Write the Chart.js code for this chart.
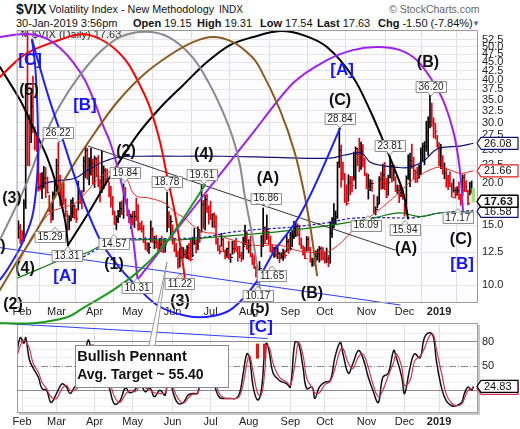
<!DOCTYPE html>
<html>
<head>
<meta charset="utf-8">
<script src="https://cdn.jsdelivr.net/npm/chart.js@4.4.1/dist/chart.umd.min.js"></script>
<style>
  html, body { margin: 0; padding: 0; background: #fff; }
  #wrap { position: relative; width: 520px; height: 429px; overflow: hidden; font-family: "Liberation Sans", Arial, sans-serif; color: #111; }
  #wrap canvas { position: absolute; left: 0; top: 0; }
  .h { position: absolute; white-space: nowrap; }
</style>
</head>
<body>
<div id="wrap">
  <div class="h" style="left:16px;top:1px;font-size:14px;font-weight:bold;">$VIX</div>
  <div class="h" style="left:49px;top:3px;font-size:10.8px;">Volatility Index - New Methodology</div>
  <div class="h" style="left:219px;top:4px;font-size:10px;">INDX</div>
  <div class="h" style="left:389px;top:3px;font-size:10.5px;color:#666;">&copy; StockCharts.com</div>
  <div class="h" style="left:16px;top:17px;font-size:11px;">30-Jan-2019 3:56pm</div>
  <div class="h" style="left:133px;top:17px;font-size:11px;"><b>Open</b> 19.15</div>
  <div class="h" style="left:197px;top:17px;font-size:11px;"><b>High</b> 19.31</div>
  <div class="h" style="left:260px;top:17px;font-size:11px;"><b>Low</b> 17.54</div>
  <div class="h" style="left:317px;top:17px;font-size:11px;"><b>Last</b> 17.63</div>
  <div class="h" style="left:378px;top:17px;font-size:11px;"><b>Chg</b> -1.50 (-7.84%)</div>
  <div class="h" style="left:472px;top:19px;font-size:8px;color:#5b6c8f;">&#9660;</div>
  <canvas id="osc" width="520" height="429"></canvas>
  <canvas id="price" width="520" height="429"></canvas>
</div>
<script>
// ---- data: $VIX daily, 30-Jan-2018 .. 30-Jan-2019 (day 0 = 1-Feb-2018) ----
const prevClose = 13.84;
const highs = [
  15.46, 15.09,
  14.47, 17.84, 38.80, 56.00, 31.64, 36.17, 41.06, 29.15, 27.38, 26.33, 21.29, 21.40, 22.32, 22.15, 20.77, 18.36, 17.26, 18.81, 20.23,
  23.46, 26.22, 21.00, 19.73, 19.93, 17.97, 16.27, 16.00, 17.82, 18.06, 17.18, 16.76, 20.22, 18.90, 18.98, 23.81, 25.50, 25.24, 23.64, 25.21, 23.44,
  23.92, 23.65, 24.01, 20.49, 24.75, 22.39, 22.03, 21.92, 20.10, 19.50, 18.23, 16.51, 15.99, 16.58, 17.53, 17.68, 19.84, 19.36, 17.95, 16.59, 16.18,
  16.46, 16.48, 18.03, 17.25, 15.25, 15.44, 14.97, 13.80, 13.34, 13.33, 15.45, 14.76, 13.93, 14.01, 13.54, 13.71, 13.93, 13.68, 13.53, 18.78, 16.44, 16.01,
  15.05, 13.72, 13.29, 12.60, 12.86, 12.97, 12.91, 12.71, 13.08, 13.26, 13.66, 13.81, 14.68, 13.59, 14.84, 14.50, 19.61, 17.73, 18.33, 18.48, 17.12,
  17.66, 16.20, 16.31, 16.02, 13.73, 13.10, 14.21, 13.72, 12.72, 12.87, 13.48, 12.37, 13.46, 13.49, 13.77, 13.01, 13.03, 12.52, 13.85, 15.01, 14.38,
  13.61, 13.94, 12.43, 12.27, 11.37, 11.23, 11.75, 14.01, 16.86, 14.84, 16.08, 14.40, 13.94, 13.17, 12.93, 13.09, 12.91, 12.52, 12.45, 12.78, 12.70, 14.05, 13.67,
  14.30, 14.48, 15.40, 15.27, 15.15, 14.99, 13.77, 13.02, 12.92, 13.91, 13.87, 12.93, 12.03, 12.02, 12.61, 12.77, 13.01, 12.96, 12.91,
  12.55, 12.87, 12.24, 15.36, 15.80, 17.36, 16.52, 23.00, 28.84, 25.77, 22.97, 21.22, 19.70, 21.08, 20.88, 20.84, 24.59, 25.45, 25.06, 27.00, 26.30, 25.86, 23.59,
  21.34, 21.14, 20.43, 20.36, 18.42, 17.00, 18.21, 20.82, 21.48, 22.67, 22.92, 20.61, 21.03, 23.81, 22.45, 22.48, 20.82, 19.69, 19.63, 19.50, 19.01,
  17.37, 20.95, 24.14, 24.40, 25.94, 23.74, 21.79, 22.19, 22.55, 25.28, 26.10, 26.39, 30.28, 31.20, 36.20, 34.20, 31.00, 29.60, 27.50,
  26.20, 25.90, 24.00, 22.85, 22.07, 21.01, 21.53, 19.94, 20.49, 19.35, 19.45, 20.12, 18.48, 21.07, 21.19, 20.26, 19.00, 20.04, 20.23, 19.31
];
const lows = [
  13.73, 13.27,
  13.19, 13.47, 16.80, 22.42, 22.39, 26.21, 28.00, 24.95, 24.70, 18.87, 19.04, 17.94, 19.28, 18.07, 18.64, 16.43, 15.29, 15.56, 18.11,
  18.83, 19.32, 17.10, 17.36, 17.22, 15.91, 14.40, 14.58, 15.46, 15.78, 15.65, 15.29, 16.63, 17.35, 16.79, 18.79, 20.65, 20.45, 19.71, 21.04, 19.84,
  19.35, 20.76, 19.44, 17.57, 18.70, 19.17, 19.61, 20.12, 18.16, 16.95, 16.09, 15.05, 14.57, 15.26, 15.85, 16.13, 15.72, 17.47, 15.96, 15.23, 14.66,
  15.03, 14.78, 15.47, 14.48, 14.55, 14.32, 13.34, 12.73, 12.62, 12.40, 13.38, 13.37, 12.81, 12.88, 12.49, 12.62, 12.53, 12.47, 12.53, 14.34, 14.77, 13.98,
  13.20, 12.54, 12.14, 11.22, 11.32, 12.06, 12.01, 12.04, 11.98, 11.88, 11.79, 12.14, 13.18, 12.44, 12.73, 13.36, 14.32, 14.68, 14.53, 16.37, 15.11,
  15.58, 14.81, 14.74, 13.20, 12.66, 12.37, 13.03, 12.56, 11.96, 12.08, 11.95, 11.68, 12.35, 12.42, 12.62, 11.76, 12.05, 11.75, 11.93, 13.15, 12.75,
  12.45, 12.17, 11.51, 11.21, 10.57, 10.17, 10.72, 12.13, 12.98, 13.24, 13.63, 13.18, 12.52, 12.31, 12.08, 12.12, 11.97, 11.65, 11.99, 11.83, 12.01, 12.54, 12.41,
  12.69, 12.98, 13.71, 13.90, 13.95, 13.14, 12.82, 12.27, 11.97, 12.60, 12.63, 11.69, 11.37, 11.43, 11.75, 11.87, 11.69, 11.85, 11.87,
  11.61, 11.67, 11.34, 11.62, 13.81, 14.73, 15.08, 15.70, 22.16, 19.40, 20.37, 17.51, 17.16, 17.64, 18.41, 18.74, 20.33, 19.18, 22.43, 21.55, 21.85, 22.25, 20.98,
  19.22, 17.90, 18.95, 18.85, 16.26, 16.09, 16.86, 17.33, 19.10, 19.21, 19.06, 18.07, 18.36, 20.61, 20.05, 20.28, 18.84, 18.56, 17.46, 18.20, 17.87,
  15.94, 16.43, 20.43, 19.47, 22.02, 20.51, 20.01, 20.02, 20.60, 21.12, 23.08, 22.57, 24.71, 24.05, 28.95, 29.22, 27.11, 26.85, 25.42,
  22.39, 21.97, 21.20, 20.53, 19.40, 19.08, 19.46, 18.19, 18.75, 18.02, 18.39, 17.86, 17.17, 18.32, 18.83, 18.79, 17.22, 18.42, 18.64, 17.54
];
const closes = [
  14.79, 13.54,
  13.47, 17.31, 37.32, 29.98, 27.73, 33.46, 29.06, 25.61, 24.97, 19.26, 19.13, 19.46, 20.60, 20.02, 18.72, 16.49, 15.80, 18.59, 19.85,
  22.47, 19.59, 18.73, 18.36, 17.76, 16.54, 14.64, 15.78, 16.35, 17.23, 16.59, 15.80, 19.02, 18.20, 17.86, 23.34, 24.87, 21.03, 22.50, 22.87, 19.97,
  23.62, 21.10, 20.06, 18.94, 21.49, 21.77, 20.47, 20.24, 18.49, 17.41, 16.56, 15.25, 15.60, 15.96, 16.88, 16.34, 18.02, 17.84, 16.24, 15.41, 15.93,
  15.49, 15.97, 15.90, 14.77, 14.75, 14.71, 13.42, 13.23, 12.65, 12.93, 14.63, 13.42, 13.43, 13.42, 13.08, 13.22, 12.58, 12.53, 13.22, 17.02, 14.94, 15.43,
  13.46, 12.74, 12.40, 11.64, 12.13, 12.18, 12.35, 12.34, 12.94, 12.12, 11.98, 12.31, 13.35, 12.79, 14.64, 13.77, 17.33, 14.85, 17.91, 16.85, 16.09,
  15.60, 16.14, 14.97, 13.37, 12.69, 12.64, 13.63, 12.58, 12.18, 12.83, 12.06, 12.10, 12.87, 12.86, 12.62, 12.41, 12.29, 12.14, 13.03, 14.26, 12.83,
  13.15, 12.19, 11.64, 11.27, 10.93, 10.85, 11.27, 13.16, 14.78, 13.31, 14.64, 13.45, 12.64, 12.49, 12.86, 12.25, 12.41, 11.99, 12.16, 12.50, 12.25, 13.53, 12.86,
  12.88, 13.91, 14.65, 14.88, 14.16, 13.22, 13.14, 12.37, 12.07, 13.68, 12.79, 11.75, 11.80, 11.68, 12.20, 12.42, 12.89, 12.41, 12.12,
  12.00, 12.05, 11.61, 14.22, 14.82, 15.69, 15.95, 22.96, 24.98, 21.31, 21.30, 17.62, 17.40, 20.06, 19.89, 19.64, 20.71, 25.23, 24.22, 24.16, 24.70, 23.35, 21.23,
  19.34, 19.51, 19.96, 19.91, 16.36, 16.72, 17.36, 20.45, 20.02, 21.25, 19.98, 18.14, 20.10, 22.48, 20.80, 21.52, 18.90, 19.02, 18.49, 18.79, 18.07,
  16.44, 20.74, 21.19, 23.23, 22.64, 21.76, 21.46, 20.65, 21.63, 24.52, 25.58, 25.58, 28.38, 30.11, 36.07, 30.41, 29.96, 28.34, 25.42,
  23.22, 25.45, 21.38, 21.40, 20.47, 19.98, 19.50, 18.19, 19.07, 18.60, 19.04, 18.06, 17.80, 20.80, 19.52, 18.89, 17.42, 18.87, 19.13, 17.63
];

// overlays: [trading day, value]
const ma50Days   = [-2.3, 4.4, 9.9, 15.4, 22, 29.2, 36.4, 43, 49.6, 56.8, 62.3, 70.6, 78.8, 84.3, 89.9, 95.4, 100.9, 106.4, 111.9, 120.2, 128.5, 142.3, 150.5, 158.8, 167.1, 172.6, 178.1, 183.6, 189.2, 194.7, 200.2, 208.5, 214, 219.5, 225, 230.5, 236, 241.6, 249];
const ma50Values = [11.5, 13.6, 15.0, 16.3, 16.9, 17.4, 19.0, 20.8, 21.5, 20.8, 18.4, 18.0, 17.4, 16.4, 15.7, 14.8, 14.3, 14.2, 13.8, 13.4, 13.1, 13.1, 12.7, 12.5, 12.5, 12.9, 13.7, 14.7, 15.5, 16.3, 17.2, 18.8, 20.1, 21.0, 21.8, 22.2, 21.8, 21.3, 21.66];
const upperDays   = [7.1, 12.6, 20.9, 29.2, 36.4, 43, 48.5, 54, 65, 87.1, 109.2, 128.5, 153.3, 169.8, 178.1, 183.6, 187.5, 191.9, 197.4, 205.7, 214, 222.2, 227.8, 233.3, 241.6, 249];
const upperValues = [19.0, 19.9, 20.3, 20.6, 21.8, 22.8, 23.4, 23.8, 23.9, 23.9, 23.9, 23.8, 23.6, 23.6, 24.1, 24.4, 24.4, 23.0, 22.5, 22.2, 22.2, 23.3, 24.9, 25.4, 25.6, 26.08];
const lowerDays   = [33.6, 43, 51.3, 65, 98.1, 114.7, 131.2, 147.8, 169.8, 180.9, 194.7, 216.7, 230.5, 249];
const lowerValues = [12.1, 12.9, 13.6, 13.7, 13.8, 14.3, 14.6, 14.8, 15.3, 15.7, 15.8, 15.8, 16.3, 16.58];
const ma200Days   = [-2.8, 9.9, 23.7, 34.7, 48.5, 62.3, 76.1, 87.1, 109.2, 131.2, 147.8, 169.8, 183.6, 194.7, 208.5, 219.5, 230.5, 249];
const ma200Values = [10.5, 11.2, 12.0, 12.4, 13.4, 13.6, 13.6, 13.6, 13.9, 14.2, 14.5, 15.0, 15.4, 15.8, 16.3, 15.9, 16.3, 16.4];

// lower panel oscillator
const oscDays = [-3, -1, 1, 2, 4, 6, 9, 11, 13.5, 16, 19, 22, 24.5, 26.5, 29, 32, 34.5, 36.5, 39, 42, 44, 46, 48.5, 51, 54, 57, 59.5, 62, 65, 68, 70.5, 73, 76, 79, 80.5, 82, 83.5, 86, 89, 91.5, 94, 97, 99, 101, 103, 105, 107, 109, 112, 115, 118, 120, 122, 124, 125.5, 127.5, 130, 132, 134, 135, 136.5, 138.5, 142, 146, 148, 150.5, 152.5, 155, 157, 160, 161.5, 164, 167, 170, 172.5, 175.5, 177, 180, 182.5, 185.5, 188, 191, 193.5, 196.5, 199, 202, 205, 206.5, 209.5, 211, 214, 216.5, 219.5, 222, 225, 227, 228.5, 231.5, 234, 237, 239.5, 242.5, 244, 246, 248, 249];
const oscMain = [65, 85, 78, 85, 58, 48, 36, 22, 20, 5, 16, 28, 24, 16, 24, 30, 57, 82, 68, 72, 55, 40, 20, 3, 7, 23, 17, 20, 28, 18, 23, 12, 20, 14, 48, 30, 16, 4, 5, 14, 16, 17, 62, 66, 52, 38, 20, 11, 10, 10, 10, 16, 41, 65, 60, 24, 8, 20, 73, 78, 65, 41, 32, 28, 24, 79, 78, 48, 22, 24, 10, 24, 30, 32, 60, 79, 65, 41, 53, 69, 60, 36, 20, 5, 36, 41, 69, 60, 36, 16, 48, 65, 60, 85, 91, 85, 57, 22, 7, 1, 1, 5, 16, 24, 20, 24.83];
const oscSignal = [60, 75, 82, 80, 72, 54, 42, 30, 22, 12, 10, 22, 26, 20, 20, 27, 42, 70, 76, 70, 64, 48, 30, 12, 5, 15, 20, 18, 24, 23, 20, 17, 16, 17, 30, 40, 23, 10, 4, 10, 15, 16, 40, 64, 60, 45, 29, 15, 10, 10, 10, 13, 28, 53, 63, 42, 16, 14, 46, 75, 72, 53, 36, 30, 26, 52, 79, 63, 35, 23, 17, 17, 27, 31, 46, 70, 72, 53, 47, 61, 65, 48, 28, 12, 20, 38, 55, 65, 48, 26, 32, 56, 62, 72, 88, 88, 71, 40, 15, 4, 1, 3, 10, 20, 22, 22.5];

const monthStarts = [0, 19, 40, 61, 83, 104, 125, 148, 167, 190, 211, 230];
const monthLabels = ['Feb', 'Mar', 'Apr', 'May', 'Jun', 'Jul', 'Aug', 'Sep', 'Oct', 'Nov', 'Dec', '2019'];
const priceTicks = [10, 12.5, 15, 17.5, 20, 22.5, 25, 27.5, 30, 32.5, 35, 37.5, 40, 42.5, 45, 47.5, 50, 52.5];
const oscTicks = [0, 10, 20, 30, 40, 50, 60, 70, 80, 90, 100];

// hand-drawn markup on the price panel, anchored at [trading day, price]
const arcs = [
  { color: '#000000', pts: [[-12.2, 43.6], [-1.1, 34.9], [6, 29.1], [13.7, 23.8], [19.8, 19.0], [23.7, 15.5], [25.3, 13.1]] },
  { color: '#000000', pts: [[25.3, 13.1], [37.5, 16.6], [48.5, 20.8], [63.4, 27.5], [76.1, 33.1], [88.8, 38.6], [102, 45.1], [114.7, 50.6], [127.4, 53.4], [142.3, 55.6], [155, 54.1], [168.2, 49.9], [182.5, 40.8], [191.9, 32.6], [199.1, 26.6], [204.6, 22.5], [210.1, 18.8], [212.9, 15.7]] },
  { color: '#ff0000', pts: [[-12.2, 40.8], [-1.1, 46.4], [6, 48.9], [17.1, 51.6], [29.2, 54.1], [37.5, 54.1], [48.5, 50.6], [57.9, 45.1], [65, 38.6], [70.6, 33.1], [76.1, 26.3], [79.9, 21.0], [84.3, 16.3], [88.2, 12.1], [89.9, 10.4]] },
  { color: '#a020f0', pts: [[-12.2, 53.4], [1.6, 54.5], [12.6, 53.1], [20.9, 49.6], [28.1, 45.1], [34.7, 39.9], [40.2, 34.2], [44.6, 29.5], [48.5, 26.3], [52.4, 22.5], [55.7, 19.0], [60.6, 14.5], [63.7, 10.4]] },
  { color: '#a020f0', pts: [[63.7, 10.4], [95.9, 17.2], [128.5, 28.5]] },
  { color: '#a020f0', pts: [[128.5, 28.5], [149.4, 39.1], [168.2, 45.7], [182.5, 48.9], [195.8, 49.9], [208.5, 48.9], [217.8, 45.7], [225, 40.8], [232.2, 34.9], [237.7, 28.5], [240.4, 24.1], [242.1, 20.3], [243.2, 16.6]] },
  { color: '#8a8a8a', pts: [[-12.2, 13.6], [1.6, 19.4], [11.5, 26.6], [20.9, 33.7], [31.9, 41.3], [43, 48.3], [54, 53.4], [68.9, 55.3], [81.6, 53.1], [94.3, 46.4], [103.7, 38.6], [110.8, 32.2], [116.3, 27.0], [120.2, 22.5], [123, 18.1], [127.4, 13.6], [130.1, 10.9], [131.2, 9.69]] },
  { color: '#8b5a1e', pts: [[-12.2, 9.69], [-3.9, 11.5], [7.1, 14.2], [24.8, 21.0], [39.1, 27.5], [52.4, 34.4], [66.7, 41.3], [81.6, 47.3], [94.3, 51.6], [105.3, 53.4], [116.3, 51.6], [125.7, 47.3], [131.2, 43.3], [142.3, 32.6], [150.5, 24.4], [156.1, 18.1], [159.9, 13.8], [162.7, 10.7]] },
  { color: '#1e1eff', pts: [[-12.2, 10.4], [-8.3, 11.1], [-1.1, 12.9], [5.5, 15.8], [8.2, 20.3], [8.8, 26.6], [8.2, 35.6], [7.1, 44.8], [5.5, 52.4]] },
  { color: '#1e1eff', pts: [[5.5, 52.4], [14.3, 36.1], [22.6, 26.6], [31.9, 18.8], [43, 13.6], [52.4, 11.5], [61.2, 10.2], [74.4, 8.76], [91, 8.13], [105.3, 8.13], [116.3, 8.58], [128.5, 10.1], [139.5, 12.7], [150.5, 15.2], [157.7, 17.8], [165.4, 21.8], [175.4, 28.9]] },
  { color: '#1a9a1a', pts: [[-12.2, 7.75], [6, 7.75], [24.8, 8.07], [33.6, 8.58], [50.2, 9.69], [63.4, 10.9], [76.1, 12.7], [87.1, 15.2], [96.5, 18.1], [100.9, 19.7]] }
];
const thinLines = [
  { color: '#333333', pts: [[36.4, 25.6], [205.7, 12.7]] },
  { color: '#2a3cff', pts: [[-12.2, 12.9], [208.5, 8.76]] },
  { color: '#2a3cff', pts: [[-12.2, 7.75], [135.1, 6.99]] }
];
const waveLabels = [
  ['(5)', 3.8, 37.3], ['(3)', -5.6, 17.9], ['(4)', 1.6, 11.2], ['(2)', -5, 8.76], ['(1)', -14.5, 13.0],
  ['(1)', 50.7, 11.5], ['(2)', 57.3, 24.7], ['(4)', 100.3, 24.1], ['(3)', 87.1, 8.94],
  ['(A)', 135.6, 20.6], ['(B)', 159.9, 9.43], ['(5)', 131.2, 8.58], ['(C)', 175.4, 34.7],
  ['(B)', 223.9, 44.8], ['(A)', 211.8, 12.8], ['(C)', 242.1, 13.6]
];
const degreeLabels = [
  ['[C]', 4.4, 45.7], ['[B]', 34.7, 33.7], ['[A]', 23.7, 10.6], ['[A]', 176.5, 42.8], ['[B]', 242.7, 11.5], ['[C]', 131.8, 7.53]
];
// callouts: text, tip day, tip price, box above (-1) or below (+1), x shift
const callouts = [
  ['26.22', 20.9, 26.3, -1, -2], ['15.29', 18.2, 14.8, 1, -5], ['13.31', 25.3, 13.0, 1, -1],
  ['19.84', 56.8, 20.1, -1, 0], ['14.57', 50.7, 14.1, 1, 0], ['10.31', 63.4, 10.5, 1, 0],
  ['18.78', 79.9, 18.9, -1, 0], ['11.22', 87.1, 10.8, 1, 0], ['19.61', 100.3, 19.8, -1, -2],
  ['16.86', 135.1, 16.9, -1, -1], ['11.65', 137.9, 11.4, 1, 0], ['10.17', 130.1, 9.95, 1, 0],
  ['28.84', 175.4, 28.9, -1, 0], ['23.81', 202.9, 24.1, -1, 0], ['16.09', 190.8, 16.0, 1, -2],
  ['15.94', 211.2, 15.5, 1, 0], ['36.20', 225.6, 35.9, -1, 0], ['17.17', 240.4, 16.8, 1, 0]
];

const FONT = '"Liberation Sans", Arial, sans-serif';
Chart.defaults.font.family = FONT;

function smoothPath(ctx, pts) {
  ctx.beginPath();
  ctx.moveTo(pts[0][0], pts[0][1]);
  for (let i = 0; i < pts.length - 1; i++) {
    const p0 = pts[i - 1] || pts[i], p1 = pts[i], p2 = pts[i + 1], p3 = pts[i + 2] || p2;
    ctx.bezierCurveTo(p1[0] + (p2[0] - p0[0]) / 6, p1[1] + (p2[1] - p0[1]) / 6,
                      p2[0] - (p3[0] - p1[0]) / 6, p2[1] - (p3[1] - p1[1]) / 6, p2[0], p2[1]);
  }
  ctx.stroke();
}

function tag(ctx, x, y, text, border, opts) {
  const o = opts || {};
  ctx.font = (o.bold ? 'bold 11.5px ' : '11px ') + FONT;
  const w = 37, h = 12, bx = x + 4;
  ctx.beginPath();
  ctx.moveTo(x, y);
  ctx.lineTo(bx, y - h / 2);
  ctx.lineTo(bx + w, y - h / 2);
  ctx.lineTo(bx + w, y + h / 2);
  ctx.lineTo(bx, y + h / 2);
  ctx.closePath();
  ctx.fillStyle = '#fff';
  ctx.fill();
  ctx.strokeStyle = border;
  ctx.lineWidth = o.bold ? 1.5 : 1.2;
  ctx.stroke();
  ctx.fillStyle = o.color || '#111';
  ctx.textAlign = 'left';
  ctx.textBaseline = 'middle';
  ctx.fillText(text, bx + 3, y + 0.5);
}

const pricePlugin = {
  id: 'priceMarkup',
  beforeDraw(chart) {
    const { ctx, chartArea: a } = chart;
    ctx.save();
    ctx.fillStyle = '#fdfdff';
    ctx.fillRect(a.left, a.top, a.right - a.left, a.bottom - a.top);
    ctx.restore();
  },
  beforeDatasetsDraw(chart) {
    const { ctx, chartArea: a } = chart;
    ctx.save();
    ctx.fillStyle = 'rgba(236,236,236,0.9)';
    ctx.fillRect(a.left, a.top, 118, 9);
    ctx.fillStyle = '#333';
    ctx.font = '9px "DejaVu Sans", sans-serif';
    ctx.textBaseline = 'middle';
    ctx.fillText('\u21C5', a.left + 3, a.top + 5);
    ctx.font = '11px ' + FONT;
    ctx.fillText('$VIX (Daily) 17.63', a.left + 15, a.top + 5);
    ctx.restore();
  },
  afterDatasetsDraw(chart) {
    const { ctx, chartArea: a, scales: { x, y } } = chart;
    const P = (d, p) => [x.getPixelForValue(d), y.getPixelForValue(p)];
    ctx.save();
    // close ticks and the live bar
    ctx.beginPath();
    ctx.rect(a.left, a.top, a.right - a.left, a.bottom - a.top);
    ctx.clip();
    closes.forEach((c, i) => {
      const px = Math.round(x.getPixelForValue(i - 2)), py = Math.round(y.getPixelForValue(c));
      const prev = i ? closes[i - 1] : prevClose;
      if (i === closes.length - 1) {
        const top = y.getPixelForValue(highs[i]), bot = y.getPixelForValue(lows[i]);
        ctx.fillStyle = '#a6e07e';
        ctx.fillRect(px - 1.5, top, 3.5, bot - top);
        return;
      }
      ctx.fillStyle = c < prev ? '#e8000b' : '#000';
      ctx.fillRect(px, py, 2, 1);
    });
    ctx.restore();

    ctx.save();
    ctx.lineCap = 'round';
    ctx.lineJoin = 'round';
    thinLines.forEach(l => {
      ctx.strokeStyle = l.color;
      ctx.lineWidth = 1;
      smoothPath(ctx, l.pts.map(q => P(q[0], q[1])));
    });
    arcs.forEach(arc => {
      ctx.strokeStyle = arc.color;
      ctx.lineWidth = 2;
      smoothPath(ctx, arc.pts.map(q => P(q[0], q[1])));
    });

    // Bullish Pennant pointer
    const tip = P(79.9, 11.7), b1 = P(70.0, 6.67), b2 = P(73.3, 6.67);
    ctx.beginPath();
    ctx.moveTo(b1[0], b1[1]);
    ctx.lineTo(tip[0], tip[1]);
    ctx.lineTo(b2[0], b2[1]);
    ctx.fillStyle = '#fff';
    ctx.fill();
    ctx.strokeStyle = '#9a9a9a';
    ctx.lineWidth = 1;
    ctx.stroke();

    ctx.textAlign = 'center';
    ctx.textBaseline = 'middle';
    ctx.font = 'bold 16px ' + FONT;
    ctx.fillStyle = '#111';
    waveLabels.forEach(([t, d, p]) => { const q = P(d, p); ctx.fillText(t, q[0], q[1]); });
    ctx.font = 'bold 17px ' + FONT;
    ctx.fillStyle = '#1414ff';
    degreeLabels.forEach(([t, d, p]) => { const q = P(d, p); ctx.fillText(t, q[0], q[1]); });
    // red II marker
    const ii = P(131.8, 6.44);
    ctx.fillStyle = '#f01010';
    ctx.fillRect(ii[0] - 5, ii[1] - 7, 3, 15);
    ctx.fillRect(ii[0] + 2, ii[1] - 7, 3, 15);

    // value callouts
    ctx.font = '10px ' + FONT;
    callouts.forEach(([t, d, p, dir, dx]) => {
      const [tx, ty] = P(d, p);
      const w = ctx.measureText(t).width + 5, h = 11;
      const cx = tx + dx, cy = ty + dir * 9.5;
      const edge = cy - dir * h / 2;
      ctx.fillStyle = '#fff';
      ctx.strokeStyle = '#8f8f8f';
      ctx.lineWidth = 1;
      ctx.fillRect(cx - w / 2, cy - h / 2, w, h);
      ctx.strokeRect(Math.round(cx - w / 2) + 0.5, Math.round(cy - h / 2) + 0.5, Math.round(w), h);
      ctx.beginPath();
      ctx.moveTo(tx - 3.5, edge);
      ctx.lineTo(tx, ty);
      ctx.lineTo(tx + 3.5, edge);
      ctx.fill();
      ctx.stroke();
      ctx.fillStyle = '#1a1a1a';
      ctx.fillText(t, cx, cy + 0.5);
    });

    // plot frame
    ctx.strokeStyle = '#9d9d9d';
    ctx.lineWidth = 1;
    ctx.strokeRect(a.left + 0.5, a.top + 0.5, a.right - a.left - 1, a.bottom - a.top - 1);

    // last-value tags on the price axis
    tag(ctx, a.right - 1, y.getPixelForValue(upperValues[upperValues.length - 1]), '26.08', '#101070');
    tag(ctx, a.right - 1, y.getPixelForValue(ma50Values[ma50Values.length - 1]), '21.66', '#e8211d');
    tag(ctx, a.right - 1, y.getPixelForValue(lowerValues[lowerValues.length - 1]) + 1, '16.58', '#101070');
    tag(ctx, a.right - 1, y.getPixelForValue(closes[closes.length - 1]), '17.63', '#000', { bold: true });
    ctx.restore();
  }
};

const oscPlugin = {
  id: 'oscMarkup',
  beforeDraw(chart) {
    const { ctx, chartArea: a } = chart;
    ctx.save();
    ctx.fillStyle = '#c8c8c8';
    ctx.fillRect(a.left + 2, a.top + 2, a.right - a.left, a.bottom - a.top);
    ctx.fillStyle = '#fff';
    ctx.fillRect(a.left, a.top, a.right - a.left, a.bottom - a.top);
    ctx.restore();
  },
  beforeDatasetsDraw(chart) {
    const { ctx, chartArea: a, scales: { y } } = chart;
    ctx.save();
    ctx.strokeStyle = '#8c8c8c';
    ctx.lineWidth = 1;
    ctx.setLineDash([7, 2, 1, 2]);
    const py = Math.round(y.getPixelForValue(50)) + 0.5;
    ctx.beginPath();
    ctx.moveTo(a.left, py);
    ctx.lineTo(a.right, py);
    ctx.stroke();
    ctx.restore();
  },
  afterDatasetsDraw(chart) {
    const { ctx, chartArea: a, scales: { x, y } } = chart;
    const P = (d, v) => [x.getPixelForValue(d), y.getPixelForValue(v)];
    ctx.save();
    // Bullish Pennant note
    const [x0, y0] = P(29.2, 75.3), [x1, y1] = P(113.6, 23.5);
    ctx.fillStyle = '#fff';
    ctx.fillRect(x0, y0, x1 - x0, y1 - y0);
    ctx.strokeStyle = '#8a8a8a';
    ctx.lineWidth = 1;
    ctx.strokeRect(Math.round(x0) + 0.5, Math.round(y0) + 0.5, Math.round(x1 - x0), Math.round(y1 - y0));
    ctx.fillStyle = '#111';
    ctx.font = 'bold 14.5px ' + FONT;
    ctx.textBaseline = 'middle';
    ctx.textAlign = 'left';
    let q = P(30.4, 60.5);
    ctx.fillText('Bullish Pennant', q[0], q[1]);
    ctx.font = 'bold 14px ' + FONT;
    q = P(30.4, 38.3);
    ctx.fillText('Avg. Target ~ 55.40', q[0], q[1]);

    ctx.strokeStyle = '#9d9d9d';
    ctx.strokeRect(a.left + 0.5, a.top + 0.5, a.right - a.left - 1, a.bottom - a.top - 1);

    const last = oscMain[oscMain.length - 1];
    const ly = y.getPixelForValue(last);
    tag(ctx, a.right - 1, ly + 2, '', '#d0304a');
    tag(ctx, a.right - 1, ly, last.toFixed(2), '#000');
    ctx.restore();
  }
};

const monthAxis = (height) => ({
  type: 'linear',
  min: -2.8,
  max: 251.5,
  offset: false,
  afterBuildTicks: s => { s.ticks = monthStarts.map(v => ({ value: v })); },
  afterFit: s => { s.height = height; },
  ticks: {
    autoSkip: false,
    maxRotation: 0,
    padding: 2,
    color: '#222',
    font: c => ({ family: FONT, size: 11, weight: c.tick && c.tick.value === 230 ? 'bold' : 'normal' }),
    callback: (v, i) => monthLabels[i]
  },
  grid: { color: '#dedede', drawTicks: false },
  border: { display: false }
});

const barColors = closes.map((c, i) => {
  if (i === closes.length - 1) return 'rgba(0,0,0,0)';
  const prev = i ? closes[i - 1] : prevClose;
  return c < prev ? '#e8000b' : '#000';
});
const pts = (days, vals) => days.map((d, i) => ({ x: d, y: vals[i] }));

new Chart(document.getElementById('price'), {
  type: 'bar',
  data: {
    datasets: [
      { type: 'line', data: pts(ma200Days, ma200Values), borderColor: '#0a7a0a', borderWidth: 1.2, pointRadius: 0, tension: 0.4, order: 0 },
      { type: 'line', data: pts(lowerDays, lowerValues), borderColor: '#1a1ad0', borderWidth: 1.2, borderDash: [3, 2], pointRadius: 0, tension: 0.4, order: 0 },
      { type: 'line', data: pts(upperDays, upperValues), borderColor: '#101070', borderWidth: 1.2, pointRadius: 0, tension: 0.4, order: 0 },
      { type: 'line', data: pts(ma50Days, ma50Values), borderColor: '#ee2a22', borderWidth: 1, pointRadius: 0, tension: 0.4, order: 0 },
      {
        type: 'bar',
        data: closes.map((c, i) => ({ x: i - 2, y: [lows[i], highs[i]] })),
        backgroundColor: barColors,
        barThickness: 1,
        order: 1
      }
    ]
  },
  options: {
    responsive: false,
    animation: false,
    layout: { padding: { left: 17, top: 30, right: 0, bottom: 0 } },
    plugins: { legend: { display: false }, tooltip: { enabled: false } },
    scales: {
      x: monthAxis(126),
      y: {
        type: 'logarithmic',
        position: 'right',
        min: 8.88,
        max: 56,
        afterBuildTicks: s => { s.ticks = priceTicks.map(v => ({ value: v })); },
        afterFit: s => { s.width = 42; },
        ticks: { autoSkip: false, padding: 4, color: '#222', font: { size: 11 }, callback: v => Number(v).toFixed(1) },
        grid: { color: '#e4e4e4', drawTicks: false },
        border: { display: false }
      }
    }
  },
  plugins: [pricePlugin]
});

new Chart(document.getElementById('osc'), {
  type: 'line',
  data: {
    datasets: [
      { data: pts(oscDays, oscSignal), borderColor: '#cf3550', borderWidth: 1.2, pointRadius: 0, tension: 0.4 },
      { data: pts(oscDays, oscMain), borderColor: '#111', borderWidth: 1.5, pointRadius: 0, tension: 0.4 }
    ]
  },
  options: {
    responsive: false,
    animation: false,
    layout: { padding: { left: 17, top: 323, right: 0, bottom: 0 } },
    plugins: { legend: { display: false }, tooltip: { enabled: false } },
    scales: {
      x: monthAxis(16),
      y: {
        type: 'linear',
        position: 'right',
        min: -8,
        max: 103,
        afterBuildTicks: s => { s.ticks = oscTicks.map(v => ({ value: v })); },
        afterFit: s => { s.width = 42; },
        ticks: { autoSkip: false, padding: 4, color: '#222', font: { size: 11 }, callback: v => (v === 80 || v === 50 || v === 20) ? String(v) : '' },
        grid: {
          drawTicks: false,
          color: c => (c.tick.value === 80 || c.tick.value === 20) ? '#8c8c8c' : (c.tick.value === 50 ? 'rgba(0,0,0,0)' : '#eeeeee')
        },
        border: { display: false }
      }
    }
  },
  plugins: [oscPlugin]
});
</script>
</body>
</html>
